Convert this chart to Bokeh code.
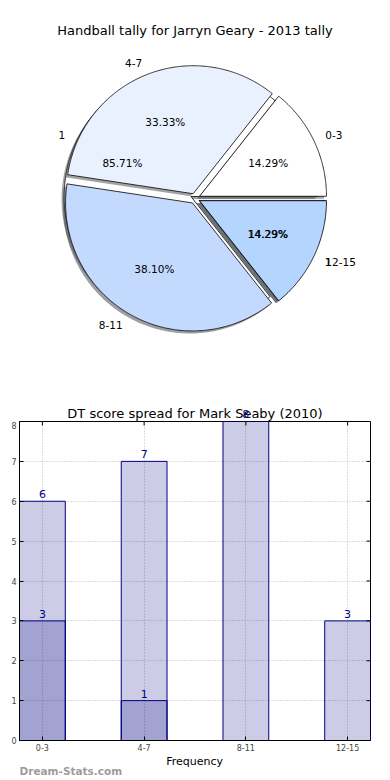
import numpy as np
from bokeh.plotting import figure
from bokeh.models import Range1d, ColumnDataSource, Label, LabelSet, FixedTicker
from bokeh.layouts import column
from bokeh.embed import file_html
from bokeh.resources import INLINE
from bokeh.core.properties import value

# ---------------- data ----------------
pie_title = "Handball tally for Jarryn Geary - 2013 tally"
pie_labels = ["0-3", "4-7", "8-11", "12-15"]
pie_counts = [3, 7, 8, 3]
pie_colors = ["#ffffff", "#eaf1fe", "#c4d9fe", "#b4d5fe"]

pie2_labels = ["1", "1"]
pie2_counts = [6, 1]
pie2_colors = ["#ffffff", "#eaf1fe"]

bar_title = "DT score spread for Mark Seaby (2010)"
bar_categories = ["0-3", "4-7", "8-11", "12-15"]
bar_series_a = [6, 7, 8, 3]
bar_series_b = [3, 1, 0, 0]
y_ticks = [0, 1, 2, 3, 4, 5, 6, 7, 8]
x_label = "Frequency"
watermark = "Dream-Stats.com"

FONT = "DejaVu Sans"
W = 390

# ---------------- pie ----------------
RX, RY = 141.0, 128.0          # px per unit radius
PH = 400
CX, CY = 195.0, 198.0          # centre in frame px (from left, from top)

p1 = figure(width=W, height=PH, output_backend="svg", toolbar_location=None,
            x_range=Range1d(-CX / RX, (W - CX) / RX),
            y_range=Range1d(-(PH - CY) / RY, CY / RY),
            x_axis_location=None, y_axis_location=None, min_border=0)
p1.grid.visible = False
p1.outline_line_color = None


def pie_geometry(counts, explode):
    total = float(sum(counts))
    t1 = 0.0
    out = []
    for c in counts:
        t2 = t1 + 360.0 * c / total
        mid = np.deg2rad((t1 + t2) / 2)
        ox, oy = explode * np.cos(mid), explode * np.sin(mid)
        th = np.deg2rad(np.linspace(t1, t2, max(3, int(t2 - t1) * 2)))
        xs = [ox] + list(ox + np.cos(th)) + [ox]
        ys = [oy] + list(oy + np.sin(th)) + [oy]
        out.append(dict(xs=xs, ys=ys, mid=mid, ox=ox, oy=oy, pct=100.0 * c / total))
        t1 = t2
    return out


def shadow_color(hexcol):
    r, g, b = (int(hexcol[i:i + 2], 16) for i in (1, 3, 5))
    return "#%02x%02x%02x" % (int(r * 0.3), int(g * 0.3), int(b * 0.3))


def draw_pie(counts, colors, explode):
    geo = pie_geometry(counts, explode)
    sh = ColumnDataSource(dict(
        xs=[[x - 0.02 for x in g["xs"]] for g in geo],
        ys=[[y - 0.02 for y in g["ys"]] for g in geo],
        c=[shadow_color(c) for c in colors]))
    p1.patches("xs", "ys", source=sh, fill_color="c", fill_alpha=0.5, line_color=None)
    src = ColumnDataSource(dict(xs=[g["xs"] for g in geo], ys=[g["ys"] for g in geo], c=colors))
    p1.patches("xs", "ys", source=src, fill_color="c", line_color="black", line_width=0.8)
    return geo


def draw_pie_texts(geo, labels):
    left = dict(x=[], y=[], t=[])
    right = dict(x=[], y=[], t=[])
    pct = dict(x=[], y=[], t=[])
    for g, lab in zip(geo, labels):
        lx = g["ox"] + 1.1 * np.cos(g["mid"])
        ly = g["oy"] + 1.1 * np.sin(g["mid"])
        d = left if lx >= 0 else right
        d["x"].append(lx); d["y"].append(ly); d["t"].append(lab)
        pct["x"].append(g["ox"] + 0.6 * np.cos(g["mid"]))
        pct["y"].append(g["oy"] + 0.6 * np.sin(g["mid"]))
        pct["t"].append("%.2f%%" % g["pct"])
    for d, al in ((left, "left"), (right, "right"), (pct, "center")):
        p1.text(x="x", y="y", text="t", source=ColumnDataSource(d), text_align=al,
                text_baseline="middle", text_font=value(FONT), text_font_size="10.5px",
                text_color="black")


geo2 = draw_pie(pie2_counts, pie2_colors, 0.035)
geo1 = draw_pie(pie_counts, pie_colors, 0.04)
draw_pie_texts(geo1, pie_labels)
draw_pie_texts(geo2, pie2_labels)

p1.add_layout(Label(x=0, y=(CY - 30) / RY, text=pie_title, text_align="center",
                    text_baseline="middle", text_font=FONT, text_font_size="13px",
                    text_color="black"))

# ---------------- bars ----------------
xs = list(range(len(bar_categories)))
BW = 0.45
BL, BR = 19, 20            # side borders of the bar plot frame
xr = Range1d(-BW / 2, xs[-1] + BW / 2)
YMAX = y_ticks[-1]

# strip above the bar frame: title and bar labels that poke out of the frame
HEAD = 21
ph = figure(width=W, height=HEAD, output_backend="svg", toolbar_location=None,
            x_range=xr, y_range=Range1d(0, HEAD), x_axis_location=None, y_axis_location=None,
            min_border_left=BL, min_border_right=BR, min_border_top=0, min_border_bottom=0)
ph.grid.visible = False
ph.outline_line_color = None
ph.text(x=[(xs[0] + xs[-1]) / 2], y=[HEAD - 13], text=[bar_title], text_align="center",
        text_baseline="middle", text_font=value(FONT), text_font_size="13px", text_color="black")
top_idx = [i for i, v in enumerate(bar_series_a) if v >= YMAX]
ph.text(x=[xs[i] for i in top_idx], y=[HEAD - 13] * len(top_idx),
        text=[str(bar_series_a[i]) for i in top_idx], text_align="center",
        text_baseline="middle", text_font=value(FONT), text_font_size="11px", text_color="navy")

AXB = 16
p2 = figure(width=W, height=740 - 400 - HEAD + AXB, output_backend="svg", toolbar_location=None,
            x_range=xr, y_range=Range1d(y_ticks[0], YMAX),
            min_border_left=BL, min_border_right=BR, min_border_top=0, min_border_bottom=AXB)
p2.outline_line_color = "black"

src_a = ColumnDataSource(dict(x=xs, top=bar_series_a))
bx = [x for x, v in zip(xs, bar_series_b) if v > 0]
bv = [v for v in bar_series_b if v > 0]
src_b = ColumnDataSource(dict(x=bx, top=bv))

for s in (src_a, src_b):
    p2.vbar(x="x", top="top", width=BW, source=s, fill_color="navy", fill_alpha=0.2,
            line_color="navy", line_width=1)

# value labels that fit inside the frame
lab_x, lab_y, lab_t = [], [], []
for series_x, series_v in ((xs, bar_series_a), (bx, bv)):
    for x, v in zip(series_x, series_v):
        if v < YMAX:
            lab_x.append(x); lab_y.append(v); lab_t.append(str(v))
p2.add_layout(LabelSet(x="x", y="y", text="t",
                       source=ColumnDataSource(dict(x=lab_x, y=lab_y, t=lab_t)),
                       y_offset=3, text_align="center", text_baseline="bottom",
                       text_color="navy", text_font=value(FONT), text_font_size="11px"))

for ax in (p2.xaxis[0], p2.yaxis[0]):
    ax.major_tick_in = 4
    ax.major_tick_out = 0
    ax.minor_tick_line_color = None
    ax.major_label_text_font = FONT
    ax.major_label_text_font_size = "8px"
    ax.major_label_standoff = 3
    ax.axis_line_color = "black"

p2.xaxis[0].ticker = FixedTicker(ticks=xs)
p2.xaxis[0].major_label_overrides = {i: c for i, c in zip(xs, bar_categories)}
p2.yaxis[0].ticker = FixedTicker(ticks=y_ticks)

# inward ticks on the right and top edges
p2.ray(x=[xr.end] * len(y_ticks), y=y_ticks, length=4, length_units="screen",
       angle=np.pi, line_color="black", line_width=1)
p2.ray(x=xs, y=[YMAX] * len(xs), length=4, length_units="screen",
       angle=-np.pi / 2, line_color="black", line_width=1)

p2.xgrid.ticker = FixedTicker(ticks=xs)
p2.ygrid.ticker = FixedTicker(ticks=y_ticks)
for g in (p2.xgrid[0], p2.ygrid[0]):
    g.grid_line_color = "#b8b8b8"
    g.grid_line_dash = "1 2"
    g.grid_line_width = 1

# strip below: axis title and watermark
FOOT = 780 - 740 - AXB
pf = figure(width=W, height=FOOT, output_backend="svg", toolbar_location=None,
            x_range=Range1d(0, W), y_range=Range1d(0, FOOT), x_axis_location=None,
            y_axis_location=None, min_border=0)
pf.grid.visible = False
pf.outline_line_color = None
pf.text(x=[BL + (W - BL - BR) / 2], y=[FOOT - 5], text=[x_label], text_align="center",
        text_baseline="middle", text_font=value(FONT), text_font_size="11px", text_color="black")
pf.text(x=[0], y=[FOOT - 14], text=[watermark], text_align="left", text_baseline="middle",
        text_font=value(FONT), text_font_size="10.5px", text_font_style="bold",
        text_color="#9c9c9c")

layout = column(p1, ph, p2, pf, spacing=0)
open("out.html", "w").write(file_html(layout, INLINE))
